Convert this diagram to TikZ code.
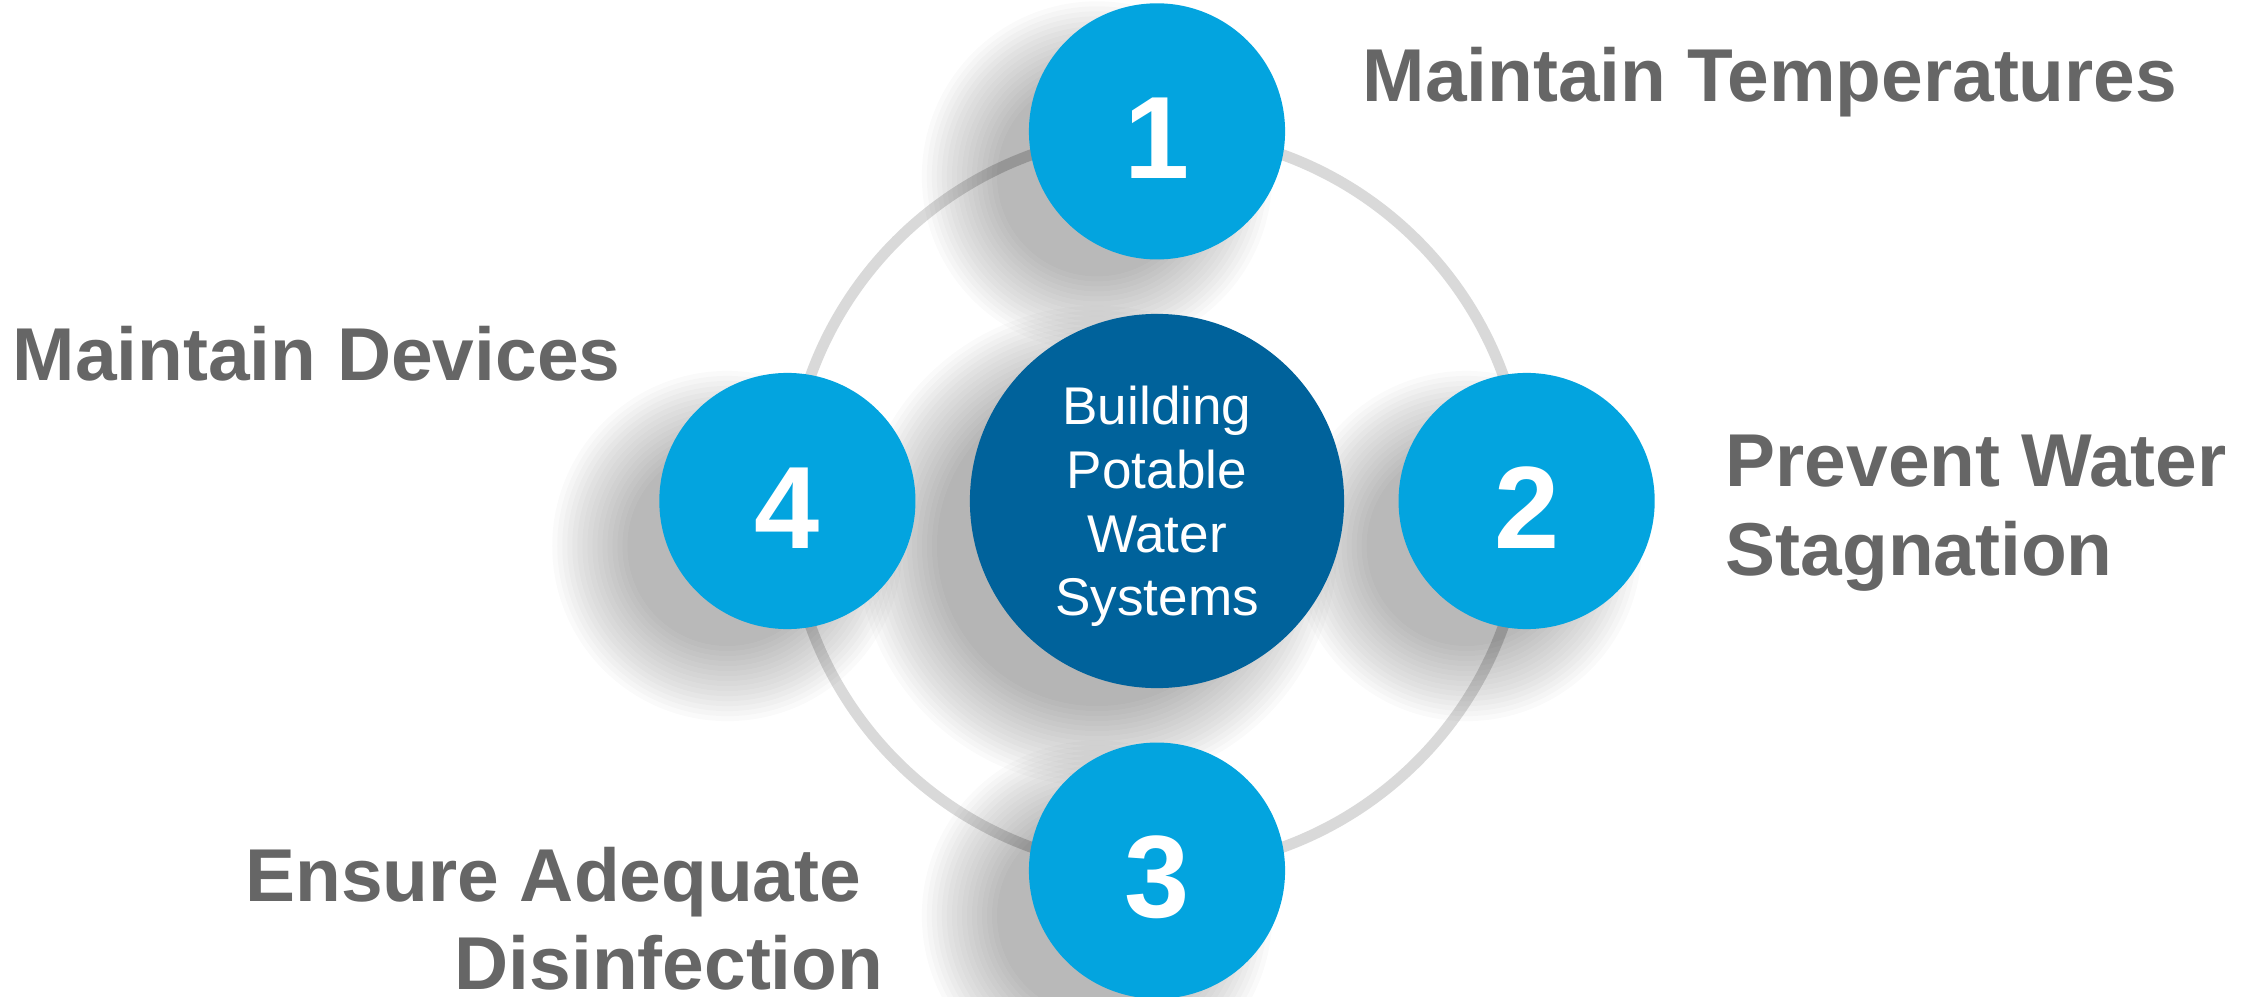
\documentclass[tikz,border=0pt]{standalone}
\usepackage{fontspec}
\setmainfont{Liberation Sans}
\usepackage{tikz}
\usetikzlibrary{positioning,backgrounds}

\definecolor{ringgray}{HTML}{D9D9D9}
\definecolor{stepblue}{HTML}{03A4DF}
\definecolor{hubblue}{HTML}{00629B}
\definecolor{labelgray}{HTML}{666666}

\tikzset{
  stepcircle/.style={circle, fill=stepblue, minimum size=2.56cm, inner sep=0pt,
    text height=0.95cm, text=white, font=\bfseries\fontsize{33.3pt}{40pt}\selectfont},
  hubcircle/.style={circle, fill=hubblue, minimum size=3.74cm, inner sep=0pt,
    text depth=0pt, text=white, align=center, font=\fontsize{15.1pt}{18.1pt}\selectfont},
  tasklabel/.style={inner sep=0pt, text=labelgray,
    font=\bfseries\fontsize{21.3pt}{25.3pt}\selectfont},
}

\begin{document}
\begin{tikzpicture}[x=0.01cm, y=-0.01cm]
    \useasboundingbox (0,0) rectangle (2254,997);

    % Hub and the four steps
    \node (hub) [hubcircle] at (1157,501) {Building\\Potable\\Water\\Systems};
    \node (one) [stepcircle, above=0.53cm of hub] {1};
    \node (two) [stepcircle, right=0.53cm of hub] {2};
    \node (three) [stepcircle, below=0.53cm of hub] {3};
    \node (four) [stepcircle, left=0.53cm of hub] {4};

    % Step labels
    \node (temps) [tasklabel, anchor=base west] at (1362,102) {Maintain Temperatures};
    \node (devices) [tasklabel, anchor=base west] at (12,380) {Maintain Devices};
    \node (prevent) [tasklabel, anchor=base west] at (1725,486) {Prevent Water};
    \node (stagnation) [tasklabel, anchor=base west] at (1725,575) {Stagnation};
    \node (ensure) [tasklabel, anchor=base east] at (862,901) {Ensure Adequate};
    \node (disinfection) [tasklabel, anchor=base east] at (884,989) {Disinfection};

    % Ring and soft drop shadows behind the circles
    \begin{scope}[on background layer]
        \draw[ringgray, line width=0.11cm] (hub.center) circle (3.68cm);
        \foreach \c in {one,two,three,four}
            \foreach \r in {1.0,1.05,...,1.8}
                \fill[black, opacity=0.02] ([xshift=-0.6cm, yshift=-0.45cm]\c.center) circle (\r cm);
        \foreach \r in {1.6,1.65,...,2.4}
            \fill[black, opacity=0.02] ([xshift=-0.6cm, yshift=-0.45cm]hub.center) circle (\r cm);
    \end{scope}
\end{tikzpicture}
\end{document}
